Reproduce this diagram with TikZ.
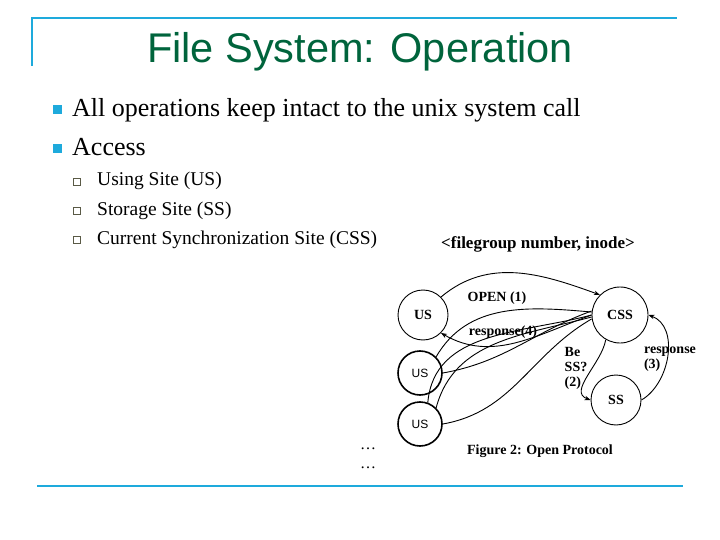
\documentclass[tikz,border=0pt]{standalone}
\usepackage{fontspec}
\setmainfont{Liberation Serif}
\newfontfamily\arialf{Liberation Sans}
\usetikzlibrary{arrows.meta}
\definecolor{ttl}{RGB}{0,100,60}
\definecolor{cy}{RGB}{30,170,220}
\definecolor{sq}{RGB}{90,90,70}
\begin{document}
\begin{tikzpicture}[x=1pt,y=-1pt,
  site/.style={circle,draw,line width=0.9pt,minimum size=#1,inner sep=0pt,font=\bfseries\fontsize{14}{14}\selectfont},
  usn/.style={circle,draw,line width=1.6pt,minimum size=44pt,inner sep=0pt,font=\arialf\fontsize{12}{12}\selectfont},
  arr/.style={-{Stealth[length=6pt]},line width=0.9pt},
  ln/.style={line width=0.9pt},
  lbl/.style={font=\bfseries\fontsize{14}{15}\selectfont,inner sep=1pt}]
\useasboundingbox (0,0) rectangle (720,540);
\draw[cy,line width=2pt] (32,66) -- (32,18) -- (677,18);
\draw[cy,line width=2pt] (37,486) -- (683,486);
\node[ttl,font=\arialf\fontsize{41.5}{41.5}\selectfont] (title) at (360,52) {File System: Operation};
\fill[cy] (53,105) rectangle (62,114);
\fill[cy] (53,144) rectangle (62,153);
\node[anchor=base west,font=\fontsize{26}{26}\selectfont,inner sep=0] (b1) at (72,117) {All operations keep intact to the unix system call};
\node[anchor=base west,font=\fontsize{26}{26}\selectfont,inner sep=0] (b2) at (72,156) {Access};
\foreach \y/\t [count=\i] in {186/Using Site (US),215/Storage Site (SS),244/Current Synchronization Site (CSS)}{
  \draw[sq,line width=0.8pt] (73,\y-8) rectangle (80,\y-1);
  \node[anchor=base west,font=\fontsize{19.5}{19.5}\selectfont,inner sep=0] (s\i) at (97,\y) {\t};
}
\node[font=\bfseries\fontsize{17}{17}\selectfont] (fg) at (538,244) {<filegroup number, inode>};
% diagram
\node[site=50pt] (us) at (423,315) {US};
\node[site=56pt] (css) at (620,315) {CSS};
\node[site=50pt] (ss) at (616,400) {SS};
\node[usn] (u2) at (420,373) {US};
\node[usn] (u3) at (420,424) {US};
\draw[arr] (us.north east) to[out=40,in=160] (css.north west);
\node[lbl] (open) at (497,298) {OPEN (1)};
\draw[arr] (css.west) to[out=200,in=-30] (us.south east);
\node[lbl] (resp4) at (503,332) {response(4)};
\draw[ln] (u2.north east) to[out=60,in=175] ([yshift=3pt]css.west);
\draw[ln] (u2.east) to[out=10,in=200] ([yshift=4pt]css.west);
\draw[ln] (u3.70) to[out=85,in=195] (css.west);
\draw[ln] (u3.north east) to[out=75,in=195] ([yshift=-2pt]css.west);
\draw[ln] (u3.east) to[out=10,in=210] ([yshift=-4pt]css.west);
\draw[arr] (css.240) to[out=260,in=160] (ss.west);
\node[lbl,align=left] (be) at (576,368) {Be\\SS?\\(2)};
\draw[arr] (ss.east) to[out=30,in=-20] (css.east);
\node[lbl,align=left] (resp3) at (670,359) {response\\(3)};
\node[font=\bfseries\fontsize{14}{14}\selectfont] (cap) at (540,451) {Figure 2: Open Protocol};
\node[font=\fontsize{16}{16}\selectfont] (d1) at (368,449) {\dots};
\node[font=\fontsize{16}{16}\selectfont] (d2) at (368,468) {\dots};
\end{tikzpicture}
\end{document}
